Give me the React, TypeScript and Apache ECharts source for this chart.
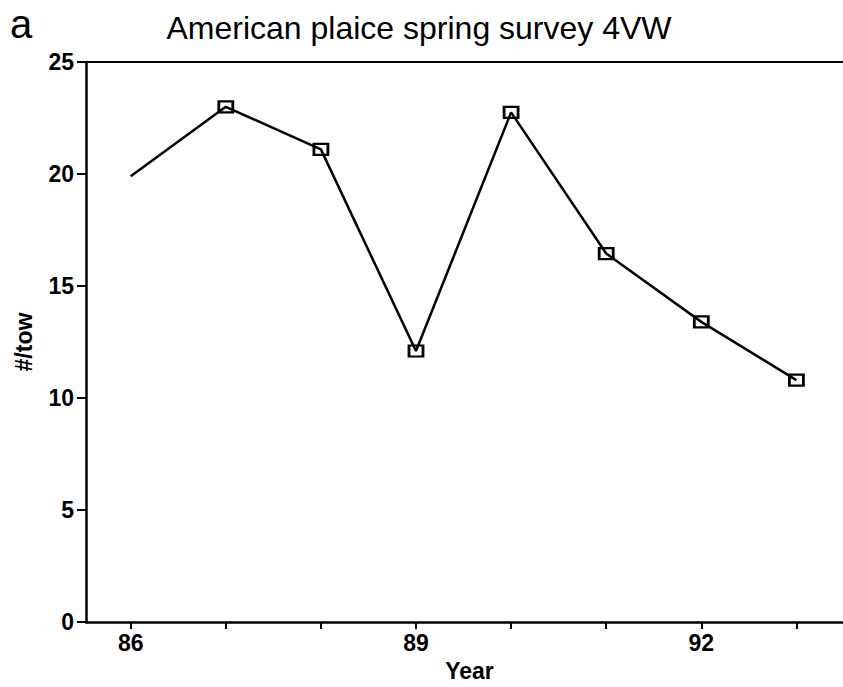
import React, { useEffect, useRef } from "react";
import * as echarts from "echarts";

const years = [86, 87, 88, 89, 90, 91, 92, 93];
const perTow = [19.9, 23.0, 21.1, 12.1, 22.75, 16.45, 13.4, 10.8];
const xTickValues = [86, 87, 88, 89, 90, 91, 92, 93];
const xLabelValues = [86, 89, 92];
const titleText = "American plaice spring survey 4VW";
const panelLetter = "a";
const xName = "Year";
const yName = "#/tow";

const FONT = "Liberation Sans, Arial, Helvetica, sans-serif";
const X_MIN = 85.53;
const X_MAX = 93.49;

export default function App() {
  const ref = useRef<HTMLDivElement>(null);
  useEffect(() => {
    if (!ref.current) return;
    const chart = echarts.init(ref.current, null, { renderer: "svg" });
    const data = years.map((y, i) =>
      i === 0 ? { value: [y, perTow[i]], symbol: "none" } : { value: [y, perTow[i]] }
    );
    chart.setOption({
      animation: false,
      backgroundColor: "#fff",
      textStyle: { fontFamily: FONT, color: "#000" },
      grid: {
        left: 86,
        top: 62,
        bottom: 64,
        right: 0,
      },
      graphic: [
        {
          type: "text",
          x: 419,
          y: 28,
          style: {
            text: titleText,
            font: `32px ${FONT}`,
            fill: "#000",
            textAlign: "center",
            textVerticalAlign: "middle",
          },
        },
        {
          type: "text",
          x: 21,
          y: 24,
          style: {
            text: panelLetter,
            font: `40px ${FONT}`,
            fill: "#000",
            textAlign: "center",
            textVerticalAlign: "middle",
          },
        },
      ],
      xAxis: [
        {
          type: "value",
          min: X_MIN,
          max: X_MAX,
          name: xName,
          nameLocation: "middle",
          nameGap: 36,
          nameTextStyle: {
            fontSize: 23,
            fontWeight: "bold",
            color: "#000",
            fontFamily: FONT,
            padding: [0, 0, 0, 10],
          },
          splitLine: { show: false },
          axisLine: { show: true, onZero: false, lineStyle: { color: "#000", width: 2.5 } },
          axisTick: {
            show: true,
            inside: false,
            length: 7,
            customValues: xTickValues,
            lineStyle: { color: "#000", width: 2 },
          },
          axisLabel: {
            customValues: xLabelValues,
            fontSize: 23,
            fontWeight: "bold",
            color: "#000",
            fontFamily: FONT,
            margin: 9,
          },
        },
        {
          type: "value",
          position: "top",
          min: X_MIN,
          max: X_MAX,
          splitLine: { show: false },
          axisLine: { show: true, onZero: false, lineStyle: { color: "#000", width: 2 } },
          axisTick: { show: false },
          axisLabel: { show: false },
        },
      ],
      yAxis: {
        type: "value",
        min: 0,
        max: 25,
        interval: 5,
        name: yName,
        nameLocation: "middle",
        nameGap: 51,
        nameTextStyle: { fontSize: 23, fontWeight: "bold", color: "#000", fontFamily: FONT },
        splitLine: { show: false },
        axisLine: { show: true, lineStyle: { color: "#000", width: 2.5 } },
        axisTick: { show: true, inside: false, length: 9, lineStyle: { color: "#000", width: 2 } },
        axisLabel: {
          fontSize: 23,
          fontWeight: "bold",
          color: "#000",
          fontFamily: FONT,
          margin: 12,
        },
      },
      series: [
        {
          type: "line",
          xAxisIndex: 0,
          data,
          symbol: "rect",
          symbolSize: [14, 11],
          lineStyle: { color: "#000", width: 2.5 },
          itemStyle: { color: "rgba(255,255,255,0)", borderColor: "#000", borderWidth: 2.5 },
          z: 3,
        },
      ],
    });
    return () => chart.dispose();
  }, []);
  return (
    <div
      ref={ref}
      style={{ position: "absolute", left: 0, top: 0, width: 843, height: 687, background: "#fff" }}
    />
  );
}
